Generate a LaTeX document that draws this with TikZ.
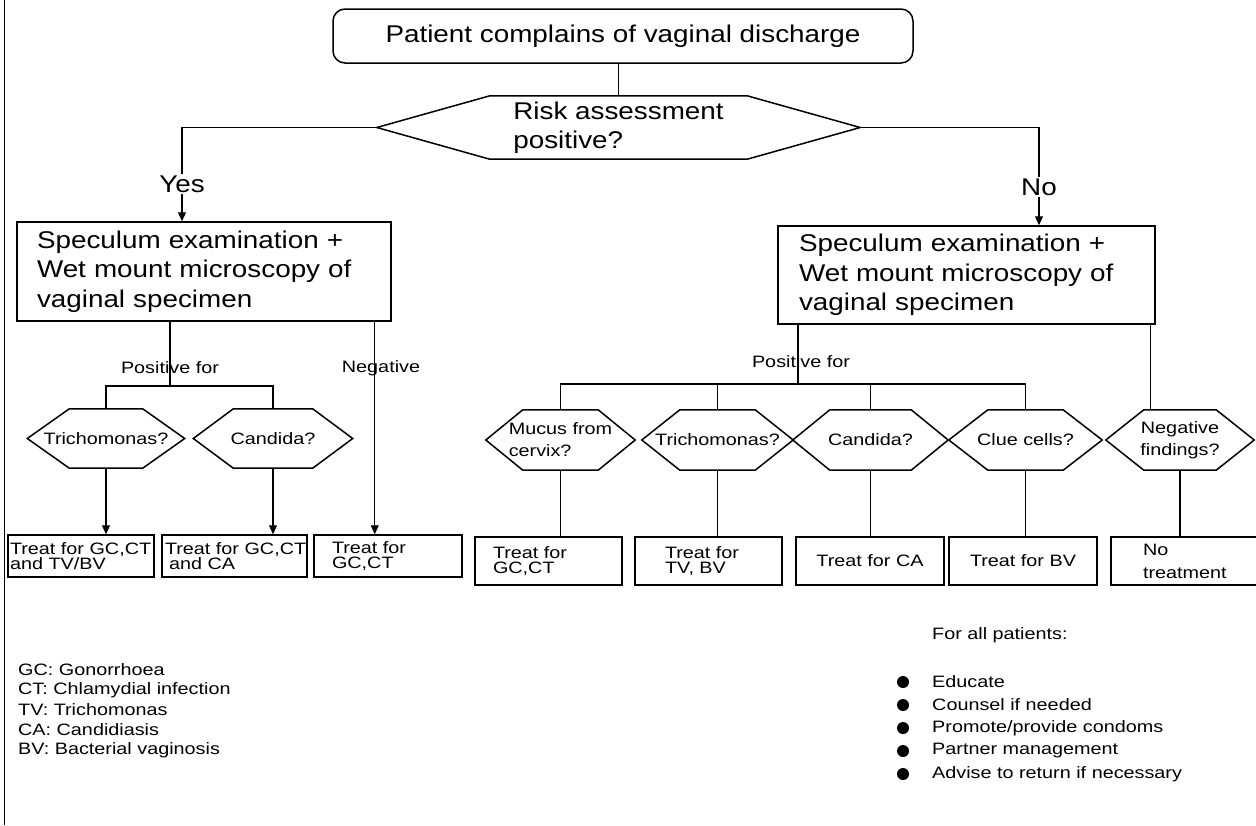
\documentclass[tikz,border=0pt]{standalone}
\usepackage{fontspec}
\setmainfont{Liberation Sans}
\newfontfamily\bigfont{Liberation Sans}[FakeStretch=1.15]
\newfontfamily\smallfont{Liberation Sans}[FakeStretch=1.2]
\usetikzlibrary{arrows.meta}

\tikzset{
  big/.style={font={\bigfont\fontsize{24.2}{29.5}\selectfont}},
  small/.style={font={\smallfont\fontsize{16.5}{15.5}\selectfont}},
  boxline/.style={draw=black, line width=1.5pt},
  conn/.style={draw=black, line width=1.1pt},
  arr/.style={conn, -{Triangle[length=9pt,width=8pt]}},
  rbox/.style={boxline, rectangle, inner sep=0pt},
  hexbox/.style={rectangle, inner sep=0pt, align=center,
    font={\smallfont\fontsize{16.5}{22}\selectfont}},
  lbl/.style={inner sep=1pt},
}

% hexagonal outline around a (frameless) rectangular node: #1 name, #2 slope width
\newcommand\hexoutline[2]{%
  \draw[boxline, line join=miter] (#1.west) -- ([xshift=#2pt]#1.north west)
    -- ([xshift=-#2pt]#1.north east) -- (#1.east)
    -- ([xshift=-#2pt]#1.south east) -- ([xshift=#2pt]#1.south west) -- cycle;}

\begin{document}
\begin{tikzpicture}[x=1pt,y=-1pt]
\useasboundingbox (0,0) rectangle (1256,825);

% left frame line
\draw[line width=1pt] (4,0) -- (4,825);

% ---------- top of the chart ----------
\node[rbox, rounded corners=12pt, minimum width=580pt, minimum height=54pt, big]
  (start) at (623,36) {Patient complains of vaginal discharge};

\node[rectangle, inner sep=0pt, minimum width=483pt, minimum height=63pt, big, align=left]
  (risk) at (618.5,127.5) {Risk assessment\\positive?};
\hexoutline{risk}{113}

\draw[conn] (start.south -| risk.north) -- (risk.north);

\node[big, lbl] (yes) at (182,184) {Yes};
\node[big, lbl] (no) at (1039,187) {No};

\node[rbox, minimum width=374pt, minimum height=99pt, text width=334pt, align=left, big]
  (spec1) at (204,271.5) {Speculum examination +\\Wet mount microscopy of\\vaginal specimen};
\node[rbox, minimum width=377pt, minimum height=98pt, text width=335pt, align=left, big]
  (spec2) at (966.5,275) {Speculum examination +\\Wet mount microscopy of\\vaginal specimen};

\draw[conn] (risk.west) -| (yes.north);
\draw[arr] (yes.south) -- (yes.south |- spec1.north);
\draw[conn] (risk.east) -| (no.north);
\draw[arr] (no.south) -- (no.south |- spec2.north);

% ---------- left branch ----------
\node[small, lbl] (pos1) at (170,368) {Positive for};
\node[small, lbl] (neg1) at (381,368) {Negative};
\coordinate (bar1) at (170,386);

\node[hexbox, minimum width=157pt, minimum height=59pt] (tri1) at (106,438.5) {Trichomonas?};
\hexoutline{tri1}{42}
\node[hexbox, minimum width=159pt, minimum height=59pt] (can1) at (273,438.5) {Candida?};
\hexoutline{can1}{40}

\node[rbox, minimum width=146pt, minimum height=42pt, text width=142pt, align=left, small]
  (trt1) at (81,556) {Treat~for~GC,CT\\and TV/BV};
\node[rbox, minimum width=145pt, minimum height=42pt, text width=139pt, align=left, small]
  (trt2) at (234.5,556) {Treat~for~GC,CT\\\hspace*{4pt}and CA};
\node[rbox, minimum width=148pt, minimum height=42pt, text width=112pt, align=left, small]
  (trt3) at (388,556) {Treat for\\GC,CT};

\draw[conn] (spec1.south -| pos1.center) -- (bar1);
\draw[conn] (tri1.north) -- (tri1.north |- bar1) -- (can1.north |- bar1) -- (can1.north);
\draw[arr] (tri1.south) -- (tri1.south |- trt1.north);
\draw[arr] (can1.south) -- (can1.south |- trt2.north);
\coordinate (negtop) at ([xshift=-17pt]spec1.south east);
\draw[arr, line width=0.8pt] (negtop) -- (negtop |- trt3.north);

% ---------- right branch ----------
\node[small, lbl] (pos2) at (801,362) {Positive for};
\coordinate (postop) at ([xshift=-168.5pt]spec2.south);
\coordinate (bar2) at (798,384);

\node[hexbox, minimum width=149pt, minimum height=60pt, align=left] (muc) at (560.5,440) {Mucus from\\cervix?};
\hexoutline{muc}{37}
\node[hexbox, minimum width=151pt, minimum height=60pt] (tri2) at (717.5,440) {Trichomonas?};
\hexoutline{tri2}{38}
\node[hexbox, minimum width=155pt, minimum height=60pt] (can2) at (870.5,440) {Candida?};
\hexoutline{can2}{37}
\node[hexbox, minimum width=153pt, minimum height=60pt] (clue) at (1025.5,440) {Clue cells?};
\hexoutline{clue}{39}
\node[hexbox, minimum width=148pt, minimum height=60pt] (negf) at (1180,440) {Negative\\findings?};
\hexoutline{negf}{38}

\node[rbox, minimum width=147pt, minimum height=48pt, text width=111pt, align=left, small]
  (trt4) at (548.5,561) {Treat for\\GC,CT};
\node[rbox, minimum width=147pt, minimum height=48pt, text width=87pt, align=left, small]
  (trt5) at (708.5,561) {Treat for\\TV, BV};
\node[rbox, minimum width=148pt, minimum height=48pt, small]
  (trt6) at (870,561) {Treat for CA};
\node[rbox, minimum width=148pt, minimum height=48pt, small]
  (trt7) at (1023,561) {Treat for BV};
\node[rbox, minimum width=151pt, minimum height=48pt, text width=87pt, align=left,
  font={\smallfont\fontsize{16.5}{23}\selectfont}]
  (trt8) at (1186.5,561) {No\\treatment};

\draw[conn] (postop) -- (bar2);
\draw[conn] (muc.north) -- (muc.north |- bar2) -- (clue.north |- bar2) -- (clue.north);
\draw[conn] (tri2.north) -- (tri2.north |- bar2);
\draw[conn] (can2.north) -- (can2.north |- bar2);
\coordinate (negftop) at ([xshift=-5pt]spec2.south east);
\draw[conn] (negftop) -- (negftop |- negf.north);

\draw[conn] (muc.south) -- (muc.south |- trt4.north);
\draw[conn] (tri2.south) -- (tri2.south |- trt5.north);
\draw[conn] (can2.south) -- (can2.south |- trt6.north);
\draw[conn] (clue.south) -- (clue.south |- trt7.north);
\draw[conn] (negf.south) -- (negf.south |- trt8.north);

% ---------- abbreviations ----------
\foreach \t [count=\i] in {GC: Gonorrhoea, CT: Chlamydial infection, TV: Trichomonas,
    CA: Candidiasis, BV: Bacterial vaginosis}
  \node[small, anchor=west, inner sep=0pt] (abbr\i) at (18,{670+20*(\i-1)}) {\t};

% ---------- advice for all patients ----------
\node[small, anchor=west, inner sep=0pt] (allp) at (932,635) {For all patients:};
\foreach \t [count=\i] in {Educate, Counsel if needed, Promote/provide condoms,
    Partner management, Advise to return if necessary} {
  \node[circle, fill=black, inner sep=0pt, minimum size=12pt] (dot\i) at (903,{682+23*(\i-1)}) {};
  \node[small, anchor=west, inner sep=0pt] (item\i) at (932,{682+23*(\i-1)}) {\t};
}
\end{tikzpicture}
\end{document}
